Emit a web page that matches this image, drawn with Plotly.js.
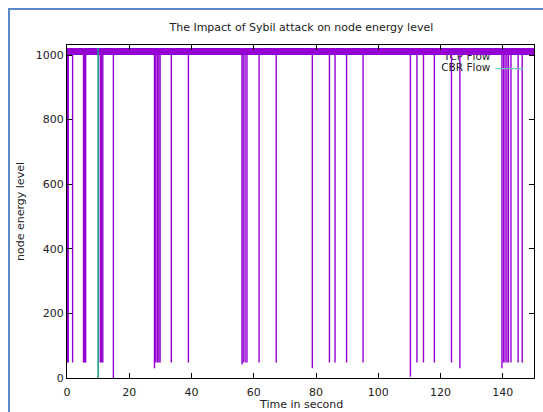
<!DOCTYPE html>
<html>
<head>
<meta charset="utf-8">
<script src="https://cdn.plot.ly/plotly-3.0.1.min.js"></script>
<style>
  html, body { margin: 0; padding: 0; background: #ffffff; }
  #chart { position: absolute; left: 0; top: 0; width: 543px; height: 412px; }
  #frame { position: absolute; left: 8px; top: 8px; width: 1000px; height: 1000px;
           border-left: 2px solid #5a88c8; border-top: 2px solid #5a88c8; pointer-events: none; }
</style>
</head>
<body>
<div id="chart"></div>
<div id="frame"></div>
<script>
// ---- data ----
var chartTitle = "The Impact of Sybil attack on node energy level";
var xLabel = "Time in second";
var yLabel = "node energy level";
var seriesNames = ["TCP Flow", "CBR Flow"];

// TCP flow: steady energy level band
var tcpBaseX = [0, 150];
var tcpBaseY = [1011, 1011];
// TCP flow: times where the energy level drops, and the minimum reached
var dropTimes = [0.1, 0.4, 1.8, 5.3, 5.6, 6.0, 10.7, 11.1, 11.5, 14.9,
                 28.1, 28.5, 29.0, 29.5, 29.9, 33.5, 39.0,
                 56.2, 56.6, 57.2, 57.8, 61.7, 67.2, 78.8,
                 84.3, 86.1, 89.8, 95.1, 110.3, 112.4, 114.5, 118.0,
                 123.5, 126.2, 139.7, 140.2, 140.7, 141.3, 141.8, 142.6,
                 144.9, 146.2];
var dropMins  = [48, 48, 48, 48, 48, 48, 48, 48, 48, 0,
                 30, 48, 48, 48, 48, 48, 48,
                 42, 48, 48, 48, 48, 48, 30,
                 48, 48, 48, 48, 4, 48, 48, 48,
                 48, 30, 30, 48, 48, 48, 48, 48,
                 48, 48];
var dropTop = 1011;

// CBR flow
var cbrX = [10, 10];
var cbrY = [0, 1022];

var xTicks = [0, 20, 40, 60, 80, 100, 120, 140];
var yTicks = [0, 200, 400, 600, 800, 1000];

// ---- build traces ----
var tcpColor = "#9400d3";
var cbrColor = "#1f9a88";

var spikeX = [], spikeY = [];
for (var i = 0; i < dropTimes.length; i++) {
  spikeX.push(dropTimes[i], dropTimes[i], null);
  spikeY.push(dropTop, dropMins[i], null);
}

var font = "DejaVu Sans, sans-serif";

// legend (gnuplot style: text, then sample on the right), drawn in gnuplot order
var keyTextX = 136.0, keyY = [994, 960], keySample = [137.5, 146.5];

var traces = [
  { x: [keyTextX], y: [keyY[0]], mode: "text", text: [seriesNames[0]],
    textposition: "middle left", textfont: {family: font, size: 10.5, color: "#222"},
    showlegend: false, hoverinfo: "skip", cliponaxis: false },
  { x: tcpBaseX, y: tcpBaseY, mode: "lines", line: {color: tcpColor, width: 7},
    showlegend: false, hoverinfo: "skip" },
  { x: spikeX, y: spikeY, mode: "lines", name: seriesNames[0],
    line: {color: tcpColor, width: 1.4}, connectgaps: false, showlegend: false },
  { x: [keyTextX], y: [keyY[1]], mode: "text", text: [seriesNames[1]],
    textposition: "middle left", textfont: {family: font, size: 10.5, color: "#222"},
    showlegend: false, hoverinfo: "skip", cliponaxis: false },
  { x: keySample, y: [keyY[1] - 2, keyY[1] - 2], mode: "lines",
    line: {color: "#6cc9b8", width: 1.2}, showlegend: false, hoverinfo: "skip" },
  { x: cbrX, y: cbrY, mode: "lines", name: seriesNames[1],
    line: {color: cbrColor, width: 1.6}, showlegend: false }
];

var layout = {
  width: 543, height: 412,
  margin: {l: 67, r: 9, t: 45, b: 34, pad: 0},
  paper_bgcolor: "#ffffff", plot_bgcolor: "#ffffff",
  font: {family: font, size: 11, color: "#222"},
  title: {text: chartTitle, x: 0.555, xanchor: "center", y: 0.935, yanchor: "middle",
          font: {family: font, size: 11, color: "#222"}},
  showlegend: false,
  xaxis: {
    range: [0, 150], tickvals: xTicks, ticktext: xTicks.map(String),
    ticks: "inside", ticklen: 5, tickwidth: 1, tickcolor: "#000",
    showline: true, linecolor: "#000", linewidth: 1, mirror: "ticks",
    showgrid: false, zeroline: false, ticklabelstandoff: 4,
    tickfont: {family: font, size: 11, color: "#222"}
  },
  yaxis: {
    range: [0, 1031], tickvals: yTicks, ticktext: yTicks.map(String),
    ticks: "inside", ticklen: 5, tickwidth: 1, tickcolor: "#000",
    showline: true, linecolor: "#000", linewidth: 1, mirror: "ticks",
    showgrid: false, zeroline: false,
    tickfont: {family: font, size: 11, color: "#222"},
    title: {text: yLabel, font: {family: font, size: 11, color: "#222"}, standoff: 8}
  },
  annotations: [
    { text: xLabel, xref: "paper", yref: "paper", x: 0.5, y: -0.08,
      xanchor: "center", yanchor: "middle", showarrow: false,
      font: {family: font, size: 11, color: "#222"} }
  ]
};

Plotly.newPlot("chart", traces, layout, {staticPlot: true, displayModeBar: false});
</script>
</body>
</html>
